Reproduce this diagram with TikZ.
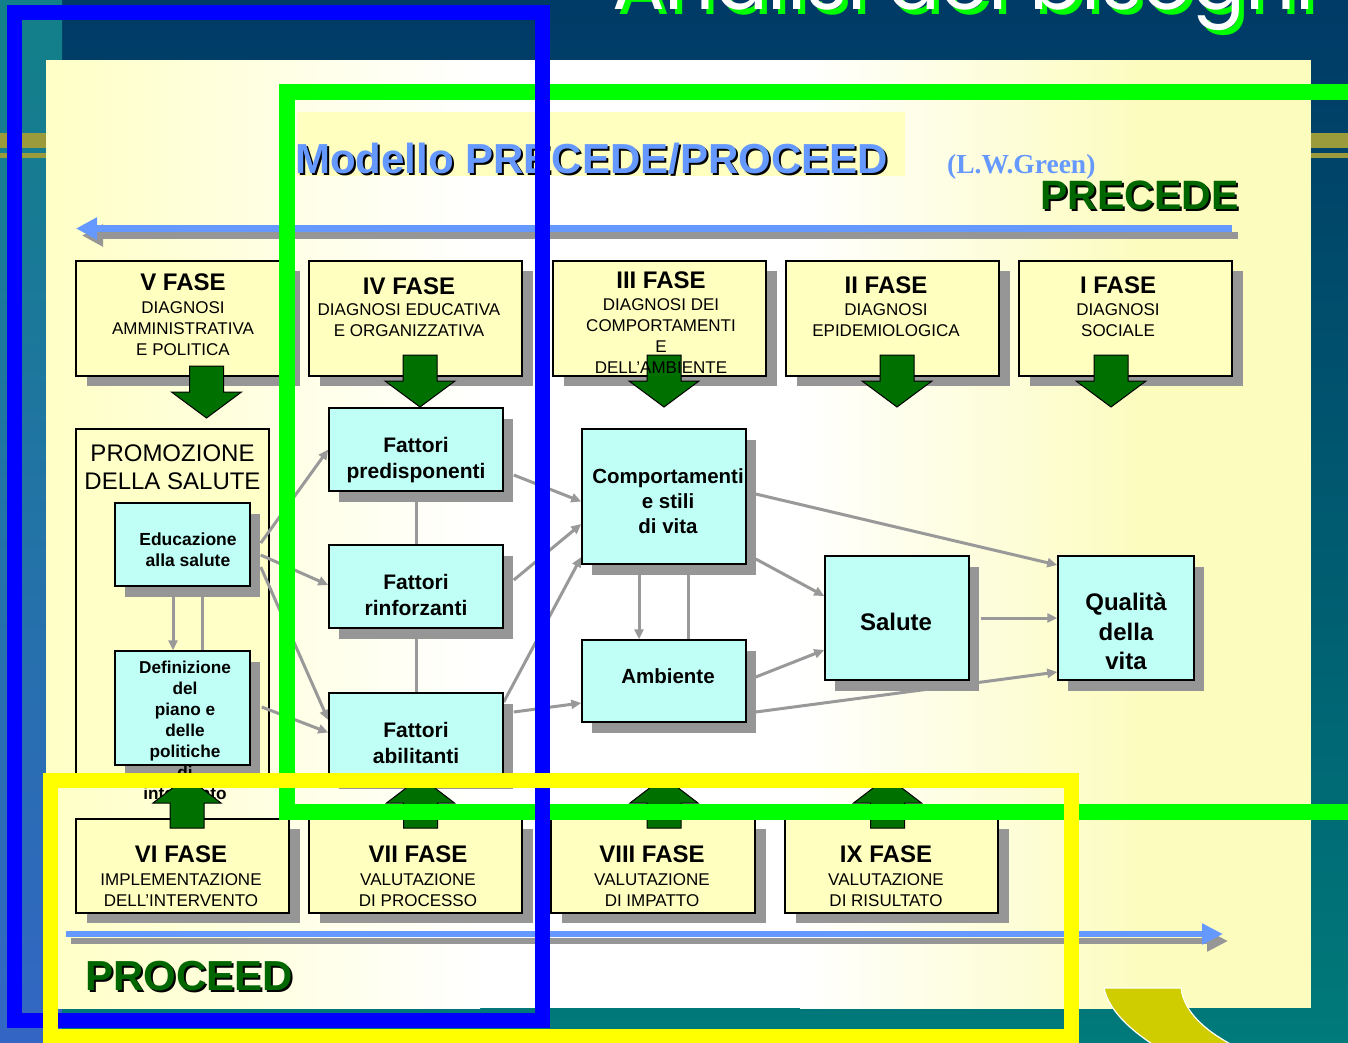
\documentclass[tikz,border=0pt]{standalone}
\usepackage{graphicx}
\usepackage{fontspec}
\setmainfont{Liberation Sans}
\newfontfamily\serifbold{Liberation Serif}
\newfontfamily\handfont{Poppins}
\usetikzlibrary{arrows.meta,calc,shadows}

\definecolor{navy}{HTML}{003A66}
\definecolor{tealbg}{HTML}{007A7A}
\definecolor{stripteal}{HTML}{118088}
\definecolor{stripblue}{HTML}{3366C4}
\definecolor{gold}{HTML}{9C9B3B}
\definecolor{panelyellow}{HTML}{FFFFC6}
\definecolor{panelyellowR}{HTML}{FCFCBE}
\definecolor{bandyellow}{HTML}{FFFFC0}
\definecolor{phaseyellow}{HTML}{FFFFC0}
\definecolor{promoyellow}{HTML}{FFFFC8}
\definecolor{boxcyan}{HTML}{BFFFF5}
\definecolor{shadowgray}{HTML}{969696}
\definecolor{linkgray}{HTML}{999999}
\definecolor{arrowgreen}{HTML}{007000}
\definecolor{titleblue}{HTML}{6699FF}
\definecolor{darkgreen}{HTML}{006600}
\definecolor{limegreen}{HTML}{00FF00}
\definecolor{pureblue}{HTML}{0000FF}
\definecolor{pureyellow}{HTML}{FFFF00}
\definecolor{swoosh}{HTML}{CFCC00}

\pgfdeclarelayer{bg}
\pgfdeclarelayer{edges}
\pgfdeclarelayer{over}
\pgfsetlayers{bg,edges,main,over}

\tikzset{
  phasebox/.style={draw=black, line width=1.5pt, fill=phaseyellow, minimum width=213pt,
    minimum height=115pt, inner sep=0pt,
    general shadow={shadow xshift=11pt, shadow yshift=-10pt, fill=shadowgray}},
  cyanbox/.style={draw=black, line width=1.5pt, fill=boxcyan, inner sep=0pt,
    general shadow={shadow xshift=10pt, shadow yshift=-11pt, fill=shadowgray}},
  phasetitle/.style={font=\bfseries\fontsize{24}{28}\selectfont, anchor=base, inner sep=0pt},
  phasesub/.style={font=\fontsize{17}{21}\selectfont, align=center, anchor=north, inner sep=0pt},
  boxlabel/.style={font=\bfseries\fontsize{21}{26}\selectfont, align=center, anchor=north, inner sep=0pt},
  link/.style={draw=linkgray, line width=3pt, -{Triangle[length=10pt,width=9pt]}},
  plainlink/.style={draw=linkgray, line width=3pt},
  bigtext/.style={anchor=base west, inner sep=0pt, font=\bfseries\fontsize{42}{48}\selectfont},
  blockdown/.pic={\filldraw[fill=arrowgreen, draw=black, line width=1pt]
    (-17,0) -- (17,0) -- (17,26) -- (35,26) -- (0,52) -- (-35,26) -- (-17,26) -- cycle;},
  blockup/.pic={\filldraw[fill=arrowgreen, draw=black, line width=1pt]
    (-17,0) -- (17,0) -- (17,-25) -- (34,-25) -- (0,-51) -- (-34,-25) -- (-17,-25) -- cycle;},
}

\begin{document}
\begin{tikzpicture}[x=1pt,y=-1pt]
\useasboundingbox (0,0) rectangle (1348,1042);

% ---------- slide background ----------
\begin{pgfonlayer}{bg}
  \fill[top color=navy, bottom color=tealbg] (0,0) rectangle (1348,1042);
  \fill[top color=stripteal, bottom color=stripblue] (0,0) rectangle (62,1042);
  \fill[gold] (0,133) rectangle (46,148);
  \fill[gold] (0,152.5) rectangle (46,157.5);
  \fill[gold] (1311,133) rectangle (1348,148);
  \fill[gold] (1311,152.5) rectangle (1348,157.5);
  % content panel
  \fill[left color=panelyellow, right color=white] (46,60) rectangle (480,1008);
  \fill[white] (480,60) rectangle (800,1008);
  \fill[left color=white, right color=panelyellowR] (800,60) rectangle (1150,1008);
  \fill[panelyellowR] (1150,60) rectangle (1311,1008);
  \fill[bandyellow] (297,112) rectangle (905,176);
  % decorative swoosh
  \filldraw[fill=swoosh, draw=white, line width=1.2pt]
    (1104,988) -- (1181,988) .. controls (1184,1012) and (1205,1032) .. (1242,1050)
    -- (1162,1050) .. controls (1128,1030) and (1108,1008) .. (1104,988) -- cycle;

  % slide title
  \node[anchor=base west, inner sep=0pt, text=limegreen] (titlesh) at (617,14)
    {\resizebox{702pt}{!}{\handfont Analisi dei bisogni}};
  \node[anchor=base west, inner sep=0pt, text=white] (title) at (612,9)
    {\resizebox{702pt}{!}{\handfont Analisi dei bisogni}};

  % model heading
  \node[bigtext, text=black] (modelsh) at (297,175) {Modello PRECEDE/PROCEED};
  \node[bigtext, text=titleblue] (model) at (295,173) {Modello PRECEDE/PROCEED};
  \node[anchor=base west, inner sep=0pt, text=titleblue,
        font=\serifbold\bfseries\fontsize{27.5}{30}\selectfont] (author) at (947,173) {(L.W.Green)};
  \node[bigtext, text=black, font=\bfseries\fontsize{41}{48}\selectfont] (precsh) at (1042,211) {PRECEDE};
  \node[bigtext, text=darkgreen, font=\bfseries\fontsize{41}{48}\selectfont] (prec) at (1040,209) {PRECEDE};
  \node[bigtext, text=black] (procsh) at (87,992) {PROCEED};
  \node[bigtext, text=darkgreen] (proc) at (85,990) {PROCEED};

  % direction arrows
  \coordinate (precR) at (1232,228.5);
  \coordinate (precL) at (76,228.5);
  \draw[line width=7pt, shadowgray, -{Triangle[length=21pt,width=21pt]}]
    ($(precR)+(6,7)$) -- ($(precL)+(6,7)$);
  \draw[line width=7pt, titleblue, -{Triangle[length=21pt,width=21pt]}] (precR) -- (precL);
  \coordinate (procL) at (66,934);
  \coordinate (procR) at (1223,934);
  \draw[line width=6.5pt, shadowgray, -{Triangle[length=21pt,width=20pt]}]
    ($(procL)+(5,7)$) -- ($(procR)+(5,7)$);
  \draw[line width=6.5pt, titleblue, -{Triangle[length=21pt,width=20pt]}] (procL) -- (procR);

  % health promotion frame
  \node[draw=black, line width=1.2pt, fill=promoyellow, minimum width=193pt,
        minimum height=353pt, inner sep=0pt] (promo) at (172.5,605.5) {};
  \node[anchor=north, align=center, inner sep=0pt, font=\fontsize{24}{28}\selectfont]
    (promol) at (172.5,445) {PROMOZIONE\\DELLA SALUTE};
\end{pgfonlayer}

% ---------- phase boxes ----------
\node[phasebox] (ph5) at (182.5,318.5) {};
\node[phasebox] (ph4) at (415.5,318.5) {};
\node[phasebox] (ph3) at (659.5,318.5) {};
\node[phasebox] (ph2) at (892.5,318.5) {};
\node[phasebox] (ph1) at (1125.5,318.5) {};
\node[phasebox, minimum height=94pt] (ph6) at (182.5,866) {};
\node[phasebox, minimum height=94pt] (ph7) at (415.5,866) {};
\node[phasebox, minimum height=94pt, minimum width=204pt] (ph8) at (653,866) {};
\node[phasebox, minimum height=94pt] (ph9) at (891.5,866) {};

% ---------- model boxes ----------
\node[cyanbox, minimum width=135pt, minimum height=83pt] (edu) at (182.5,544.5) {};
\node[cyanbox, minimum width=135pt, minimum height=114pt] (defn) at (182.5,708) {};
\node[cyanbox, minimum width=174pt, minimum height=83pt] (pred) at (416,449.5) {};
\node[cyanbox, minimum width=174pt, minimum height=83pt] (rinf) at (416,586.5) {};
\node[cyanbox, minimum width=174pt, minimum height=85pt] (abil) at (416,735.5) {};
\node[cyanbox, minimum width=164pt, minimum height=135pt] (comp) at (664,496.5) {};
\node[cyanbox, minimum width=164pt, minimum height=82pt] (amb) at (664,681) {};
\node[cyanbox, minimum width=144pt, minimum height=124pt] (sal) at (897,618) {};
\node[cyanbox, minimum width=136pt, minimum height=124pt] (qual) at (1126,618) {};

\node[boxlabel, font=\bfseries\fontsize{17.5}{21}\selectfont] (edul) at (188,533) {Educazione\\alla salute};
\node[boxlabel, font=\bfseries\fontsize{17.2}{21}\selectfont] (defnl) at (185,661)
  {Definizione\\del\\piano e\\delle\\politiche\\di\\intervento};
\node[boxlabel] (predl) at (416,437) {Fattori\\predisponenti};
\node[boxlabel] (rinfl) at (416,574) {Fattori\\rinforzanti};
\node[boxlabel] (abill) at (416,722) {Fattori\\abilitanti};
\node[boxlabel, font=\bfseries\fontsize{20.5}{25}\selectfont] (compl) at (668,468) {Comportamenti\\e stili\\di vita};
\node[boxlabel, font=\bfseries\fontsize{20.5}{25}\selectfont] (ambl) at (668,668) {Ambiente};
\node[boxlabel, font=\bfseries\fontsize{24}{29.5}\selectfont] (sall) at (896,613) {Salute};
\node[boxlabel, font=\bfseries\fontsize{24}{29.5}\selectfont] (quall) at (1126,593) {Qualità\\della\\vita};

% ---------- phase arrows ----------
\pic at (206.5,366) {blockdown};
\pic at (420,355) {blockdown};
\pic at (664,355) {blockdown};
\pic at (897,355) {blockdown};
\pic at (1111,355) {blockdown};
\pic at (187,828) {blockup};
\pic at (420.5,828) {blockup};
\pic at (664,828) {blockup};
\pic at (887.5,828) {blockup};

% ---------- phase labels ----------
\node[phasetitle] (ph5t) at (183,290) {V FASE};
\node[phasesub] (ph5s) at (183,301) {DIAGNOSI\\AMMINISTRATIVA\\E POLITICA};
\node[phasetitle] (ph4t) at (409,294) {IV FASE};
\node[phasesub] (ph4s) at (409,303) {DIAGNOSI EDUCATIVA\\E ORGANIZZATIVA};
\node[phasetitle] (ph3t) at (661,288) {III FASE};
\node[phasesub] (ph3s) at (661,298) {DIAGNOSI DEI\\COMPORTAMENTI\\E\\DELL’AMBIENTE};
\node[phasetitle] (ph2t) at (886,293) {II FASE};
\node[phasesub] (ph2s) at (886,303) {DIAGNOSI\\EPIDEMIOLOGICA};
\node[phasetitle] (ph1t) at (1118,293) {I FASE};
\node[phasesub] (ph1s) at (1118,303) {DIAGNOSI\\SOCIALE};
\node[phasetitle] (ph6t) at (181,862) {VI FASE};
\node[phasesub] (ph6s) at (181,873) {IMPLEMENTAZIONE\\DELL’INTERVENTO};
\node[phasetitle] (ph7t) at (418,862) {VII FASE};
\node[phasesub] (ph7s) at (418,873) {VALUTAZIONE\\DI PROCESSO};
\node[phasetitle] (ph8t) at (652,862) {VIII FASE};
\node[phasesub] (ph8s) at (652,873) {VALUTAZIONE\\DI IMPATTO};
\node[phasetitle] (ph9t) at (886,862) {IX FASE};
\node[phasesub] (ph9s) at (886,873) {VALUTAZIONE\\DI RISULTATO};

% ---------- connectors ----------
\begin{pgfonlayer}{edges}
  \draw[link] ($(edu.east)+(10,-1.5)$) -- (pred.west);
  \draw[link] ($(edu.east)+(10,10.5)$) -- ($(rinf.west)+(0,-1.5)$);
  \draw[link] ($(edu.east)+(10,22.5)$) -- ($(abil.west)+(0,-15.5)$);
  \draw[link] ($(defn.east)+(11,-1)$) -- ($(abil.west)+(0,-3)$);
  \draw[link] ($(edu.south)+(-9.5,0)$) -- ($(defn.north)+(-9.5,0)$);
  \draw[plainlink] ($(edu.south)+(19.5,0)$) -- ($(defn.north)+(19.5,0)$);
  \draw[plainlink] (pred.south) -- (rinf.north);
  \draw[plainlink] (rinf.south) -- (abil.north);
  \draw[link] ($(pred.east)+(10,25.5)$) -- ($(comp.west)+(0,5)$);
  \draw[link] ($(rinf.east)+(10,-6.5)$) -- ($(comp.west)+(0,27.5)$);
  \draw[link] ($(abil.east)+(0,-33.5)$) -- ($(comp.west)+(0,60.5)$);
  \draw[link] ($(abil.east)+(10,-23.5)$) -- ($(amb.west)+(0,22)$);
  \draw[link] ($(comp.south)+(-25,0)$) -- ($(amb.north)+(-25,0)$);
  \draw[plainlink] ($(comp.south)+(24,0)$) -- ($(amb.north)+(24,0)$);
  \draw[link] ($(comp.east)+(9,-2.5)$) -- ($(qual.west)+(0,-53)$);
  \draw[link] ($(comp.east)+(9,62.5)$) -- ($(sal.west)+(0,-22)$);
  \draw[link] ($(amb.east)+(9,-4)$) -- ($(sal.west)+(0,32)$);
  \draw[link] ($(amb.east)+(9,31)$) -- ($(qual.west)+(0,54)$);
  \draw[link] ($(sal.east)+(11,0)$) -- (qual.west);
\end{pgfonlayer}

% ---------- highlight frames ----------
\begin{pgfonlayer}{over}
  \draw[line width=15.5pt, limegreen] (287,92) rectangle (1380,812);
  \draw[line width=15pt, pureblue] (14.5,12) rectangle (542.5,1020);
  \draw[line width=15pt, pureyellow] (50,780.5) rectangle (1071.5,1036.5);
\end{pgfonlayer}
\end{tikzpicture}
\end{document}
